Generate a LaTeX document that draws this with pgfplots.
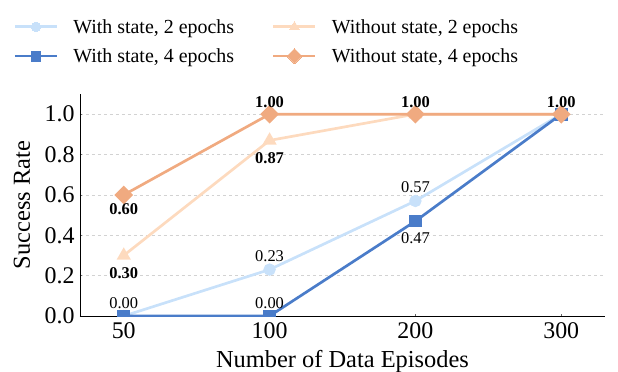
\documentclass[border=0pt]{standalone}
\usepackage{pgfplots}
\pgfplotsset{compat=1.18}
\usepackage{fontspec}
\setmainfont{Liberation Serif}
\definecolor{lblue}{RGB}{200,225,250}
\definecolor{dblue}{RGB}{74,124,201}
\definecolor{lpeach}{RGB}{253,218,190}
\definecolor{orng}{RGB}{240,170,128}
\begin{document}
\begin{tikzpicture}
\path[use as bounding box] (-80bp,-56bp) rectangle (538bp,316bp);
\begin{axis}[
  scale only axis,
  width=525bp, height=222bp,
  xmin=-0.3, xmax=3.3, ymin=0, ymax=1.1,
  clip marker paths=true,
  xtick={0,1,2,3}, xticklabels={50,100,200,300},
  ytick={0,0.2,0.4,0.6,0.8,1.0},
  yticklabel style={/pgf/number format/fixed,/pgf/number format/fixed zerofill,/pgf/number format/precision=1},
  /pgf/number format/assume math mode=true,
  tick label style={font=\fontsize{24}{26}\selectfont},
  xticklabel style={yshift=-3bp},
  yticklabel style={xshift=-2bp},
  xlabel={Number of Data Episodes}, ylabel={Success Rate},
  label style={font=\fontsize{24.5}{26}\selectfont},
  xlabel style={at={(axis description cs:0.5,0)}, anchor=base, yshift=-51bp},
  ylabel style={at={(axis description cs:-0.1105,0.5)}, anchor=center, rotate=0},
  axis lines*=left,
  axis line style={black, line width=0.7pt},
  tick align=inside, tick style={black!60, line width=0.5pt},
  major tick length=2bp,
  ymajorgrids, grid style={dashed, gray!35, line width=0.4pt},
  legend columns=2,
  legend style={draw=none, fill=none, at={(0.354,1.2365)}, anchor=center,
    font=\fontsize{20}{22}\selectfont,
    nodes={inner xsep=0pt, inner ysep=1pt},
    /tikz/every odd column/.append style={column sep=15bp},
    /tikz/every even column/.append style={column sep=38bp},
    row sep=12bp},
  legend image code/.code={\draw[#1, mark=none] (0bp,0bp) -- (42bp,0bp); \draw[#1, line width=0pt] plot coordinates {(21bp,0bp)};},
  every axis plot/.append style={line width=2.7pt},
]
\addplot[lblue, mark=*, mark size=4.8pt] coordinates {(0,0) (1,0.23) (2,0.57) (3,1.0)};
\addlegendentry{With state, 2 epochs}
\addplot[lpeach, mark=triangle*, mark size=5.5pt] coordinates {(0,0.30) (1,0.87) (2,1.0) (3,1.0)};
\addlegendentry{Without state, 2 epochs}
\addplot[dblue, mark=square*, mark size=5pt] coordinates {(0,0) (1,0) (2,0.47) (3,1.0)};
\addlegendentry{With state, 4 epochs}
\addplot[orng, mark=square*, mark size=5.3pt, mark options={rotate=45}] coordinates {(0,0.60) (1,1.0) (2,1.0) (3,1.0)};
\addlegendentry{Without state, 4 epochs}
\begin{scope}[every node/.style={font=\fontsize{16.5}{18}\selectfont, inner sep=0pt}]
\node[anchor=base] at ([yshift=8bp]axis cs:0,0) {0.00};
\node[anchor=base] at ([yshift=8bp]axis cs:1,0) {0.00};
\node[anchor=base] at ([yshift=8bp]axis cs:1,0.23) {0.23};
\node[anchor=base] at ([yshift=8bp]axis cs:2,0.57) {0.57};
\node[below=11bp] at (axis cs:2,0.47) {0.47};
\node[below=12bp] at (axis cs:0,0.30) {\textbf{0.30}};
\node[below=8bp] at (axis cs:0,0.60) {\textbf{0.60}};
\node[below=12bp] at (axis cs:1,0.87) {\textbf{0.87}};
\node[anchor=base] at ([yshift=7bp]axis cs:1,1.0) {\textbf{1.00}};
\node[anchor=base] at ([yshift=7bp]axis cs:2,1.0) {\textbf{1.00}};
\node[anchor=base] at ([yshift=7bp]axis cs:3,1.0) {\textbf{1.00}};
\end{scope}
\end{axis}
\end{tikzpicture}
\end{document}
